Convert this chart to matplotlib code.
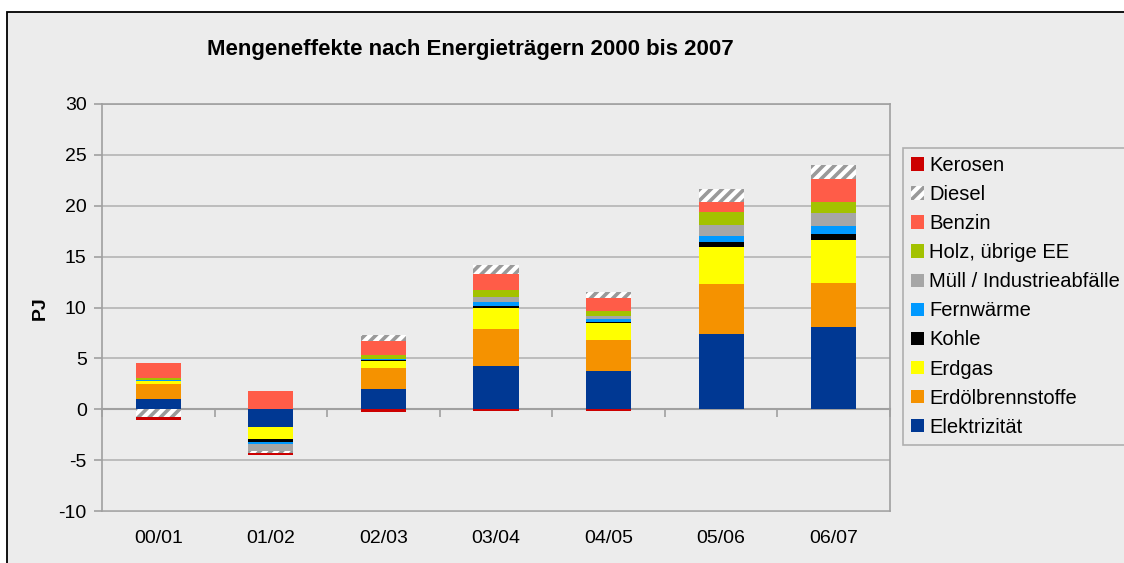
import matplotlib.pyplot as plt
import matplotlib.patches as mpatches
import numpy as np

plt.rcParams['font.family'] = ['Liberation Sans', 'DejaVu Sans']
plt.rcParams['hatch.linewidth'] = 2.6
plt.rcParams['axes.unicode_minus'] = False

perioden = ['00/01', '01/02', '02/03', '03/04', '04/05', '05/06', '06/07']

# Reihenfolge = Stapelreihenfolge von unten nach oben
traeger = ['Elektrizität', 'Erdölbrennstoffe', 'Erdgas', 'Kohle', 'Fernwärme',
           'Müll / Industrieabfälle', 'Holz, übrige EE', 'Benzin', 'Diesel', 'Kerosen']

elektrizitaet = [0.98, -1.70, 1.96, 4.25, 3.76, 7.35, 8.04]
erdoel = [1.47, -0.07, 2.06, 3.63, 3.04, 5.00, 4.41]
erdgas = [0.33, -1.18, 0.72, 2.06, 1.67, 3.63, 4.22]
kohle = [0.03, -0.30, 0.10, 0.20, 0.13, 0.49, 0.59]
fernwaerme = [0.05, -0.16, 0.07, 0.39, 0.26, 0.59, 0.78]
muell = [0.05, -0.69, 0.03, 0.46, 0.33, 1.05, 1.24]
holz = [0.16, 0.05, 0.39, 0.72, 0.46, 1.31, 1.11]
benzin = [1.47, 1.76, 1.40, 1.57, 1.27, 0.98, 2.25]
diesel = [-0.75, -0.16, 0.56, 0.88, 0.59, 1.27, 1.37]
kerosen = [-0.30, -0.26, -0.26, -0.15, -0.15, -0.02, -0.02]

werte = [elektrizitaet, erdoel, erdgas, kohle, fernwaerme, muell, holz, benzin, diesel, kerosen]
farben = ['#003893', '#F59200', '#FFFF00', '#000000', '#0099FF',
          '#A6A6A6', '#A3C200', '#FF5C48', 'white', '#CC0000']

bg = '#ECECEC'
grau = '#A0A0A0'

fig = plt.figure(figsize=(11.24, 5.63), dpi=100)
fig.patch.set_facecolor('white')
rahmen = mpatches.Rectangle((7 / 1124, -0.1), 1.2, 1 - 12 / 563 + 0.1, transform=fig.transFigure,
                            facecolor=bg, edgecolor='black', linewidth=1.3, zorder=-10)
fig.patches.append(rahmen)

ax = fig.add_axes([102 / 1124, 1 - 511 / 563, (890 - 102) / 1124, (511 - 104) / 563])
ax.set_facecolor(bg)

x = np.arange(len(perioden))
pos = np.zeros(len(perioden))
neg = np.zeros(len(perioden))
handles = []
for name, vals, col in zip(traeger, werte, farben):
    vals = np.array(vals)
    unten = np.where(vals >= 0, pos, neg)
    if name == 'Diesel':
        b = ax.bar(x, vals, 0.4, bottom=unten, facecolor='white', edgecolor='#9A9A9A',
                   hatch='///', linewidth=0, label=name, zorder=3)
    else:
        b = ax.bar(x, vals, 0.4, bottom=unten, color=col, linewidth=0, label=name, zorder=3)
    pos = pos + np.where(vals >= 0, vals, 0)
    neg = neg + np.where(vals < 0, vals, 0)
    handles.append(b)

ax.set_ylim(-10, 30)
ax.set_xlim(-0.5, len(perioden) - 0.5)
ax.set_yticks(range(-10, 31, 5))
ax.yaxis.grid(True, color='#B4B4B4', linewidth=1.2, zorder=0)
ax.set_axisbelow(True)
for s in ['left', 'right', 'top']:
    ax.spines[s].set_color(grau)
    ax.spines[s].set_linewidth(1.2)
ax.spines['bottom'].set_position(('data', 0))
ax.spines['bottom'].set_color(grau)
ax.spines['bottom'].set_linewidth(1.5)
ax.set_xticks([])
ax.set_xticks(np.arange(len(perioden) + 1) - 0.5, minor=True)
ax.tick_params(axis='x', which='minor', length=6, width=1.2, color=grau, direction='out')
ax.tick_params(axis='y', length=6, width=1.2, color=grau, labelsize=14, pad=5)

ax2 = ax.secondary_xaxis(0)
ax2.set_xticks(x, labels=perioden)
ax2.tick_params(length=0, pad=14, labelsize=14)
ax2.spines['bottom'].set_color(grau)
ax2.spines['bottom'].set_linewidth(1.2)

fig.text(470 / 1124, 1 - 50 / 563, 'Mengeneffekte nach Energieträgern 2000 bis 2007',
         ha='center', va='center', fontsize=16, fontweight='bold')
fig.text(40 / 1124, 1 - 308 / 563, 'PJ', rotation=90, ha='center', va='center',
         fontsize=14, fontweight='bold')

leg = fig.legend(handles[::-1], traeger[::-1], loc='upper left',
                 bbox_to_anchor=(903 / 1124, 1 - 148 / 563), fontsize=14.5,
                 frameon=True, fancybox=False, handlelength=0.65, handleheight=0.65,
                 handletextpad=0.25, labelspacing=0.5, borderpad=0.4, borderaxespad=0)
leg.get_frame().set_facecolor(bg)
leg.get_frame().set_edgecolor(grau)
leg.get_frame().set_linewidth(1.2)

fig.savefig('out.png', dpi=100, facecolor=fig.get_facecolor())
